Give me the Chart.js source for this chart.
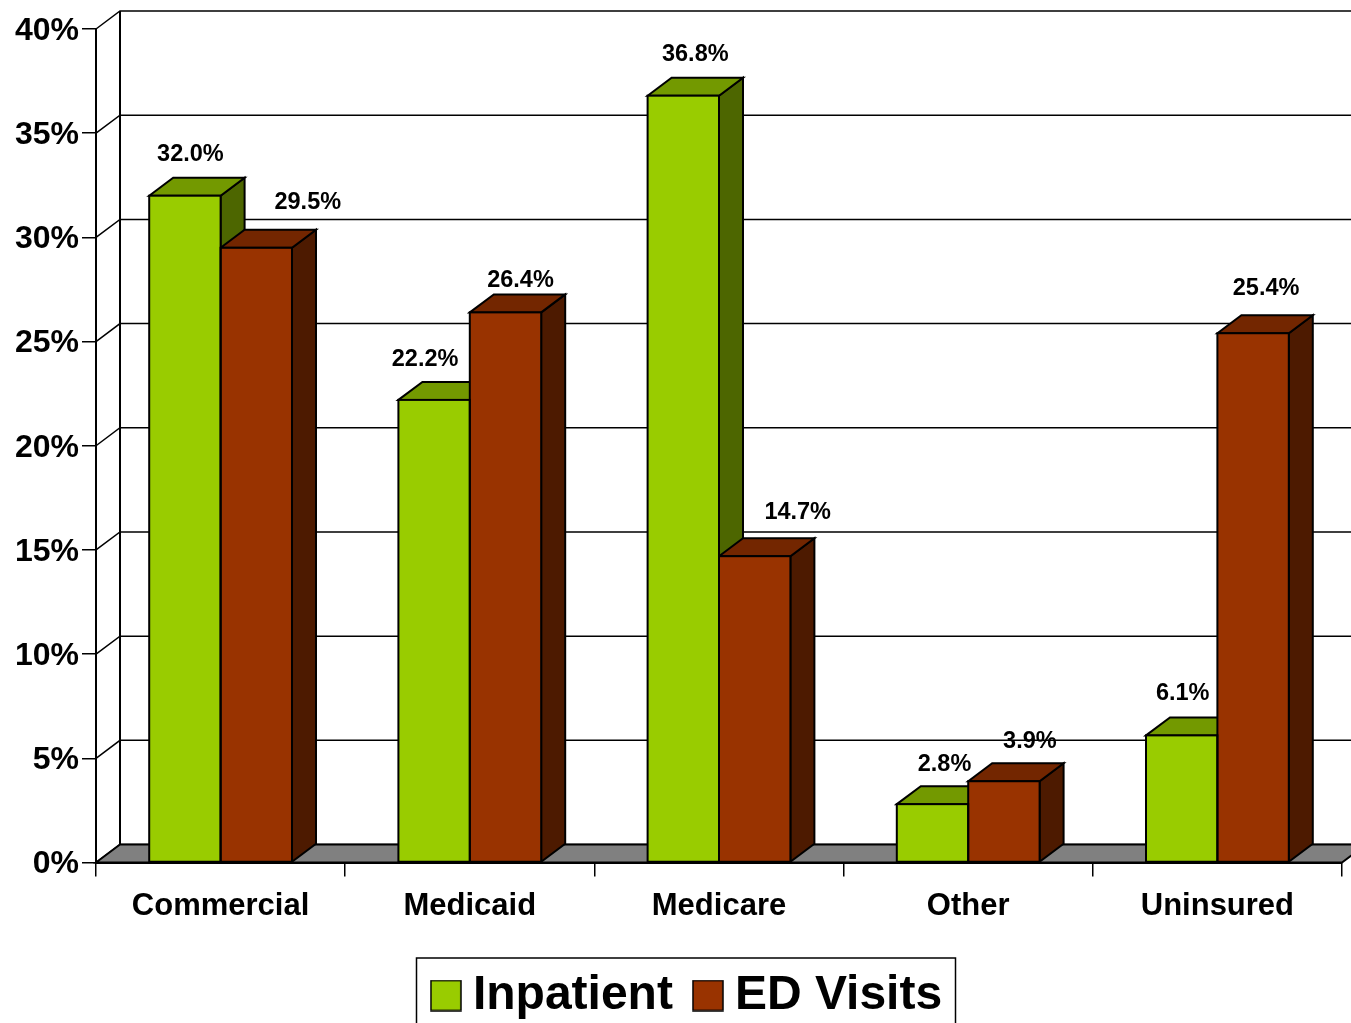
<!DOCTYPE html>
<html>
<head>
<meta charset="utf-8">
<title>Inpatient and ED Visits by payer</title>
<script src="https://cdn.jsdelivr.net/npm/chart.js@4/dist/chart.umd.js"></script>
<style>
  body { margin: 0; background: #fff; }
  canvas { display: block; }
</style>
</head>
<body>
<canvas id="myChart" width="1351" height="1023"></canvas>
<script>
var categories = ["Commercial", "Medicaid", "Medicare", "Other", "Uninsured"];
var inpatient = [32.0, 22.2, 36.8, 2.8, 6.1];
var edVisits = [29.5, 26.4, 14.7, 3.9, 25.4];

var FONT = '"Liberation Sans", Arial, sans-serif';
var DX = 24, DY = 18; // depth of the 3d box
var LINE = 2;

var faces = [
  { front: "#99CC00", top: "#739900", side: "#4D6600" },
  { front: "#993300", top: "#732600", side: "#4D1A00" }
];

// data labels were hand placed in the original, nudges from the bar's top centre
var labelNudges = [
  [[5.5, -41], [-9, -40], [12, -41], [12, -40], [1, -42]],
  [[51.5, -45], [15, -32], [43, -44], [26, -40], [13, -45]]
];

function swatch(color) {
  var c = document.createElement("canvas");
  c.width = 32;
  c.height = 32;
  var g = c.getContext("2d");
  g.fillStyle = color;
  g.fillRect(1, 1, 30, 30);
  g.strokeStyle = "#000";
  g.lineWidth = 1.5;
  g.strokeRect(1, 1, 30, 30);
  return c;
}

function poly(ctx, pts, fill) {
  ctx.beginPath();
  ctx.moveTo(pts[0][0], pts[0][1]);
  for (var i = 1; i < pts.length; i++) ctx.lineTo(pts[i][0], pts[i][1]);
  ctx.closePath();
  if (fill) {
    ctx.fillStyle = fill;
    ctx.fill();
  }
  ctx.stroke();
}

var box3d = {
  id: "box3d",
  afterLayout: function (chart) {
    // move the legend to where the original has it
    var lg = chart.legend;
    lg.top = 939.5;
    lg.left += 21.5;
    lg.right += 21.5;
  },
  beforeDatasetsDraw: function (chart) {
    var ctx = chart.ctx, a = chart.chartArea, y = chart.scales.y;
    ctx.save();
    ctx.strokeStyle = "#000";
    ctx.lineWidth = 1.5;

    // back wall lines and the slanted bits off the axis
    y.ticks.forEach(function (t) {
      var py = y.getPixelForValue(t.value);
      ctx.beginPath();
      ctx.moveTo(a.left, py);
      ctx.lineTo(a.left + DX, py - DY);
      ctx.lineTo(chart.width, py - DY);
      ctx.stroke();
    });
    ctx.lineWidth = LINE;
    ctx.beginPath();
    ctx.moveTo(a.left + DX, a.top - DY);
    ctx.lineTo(a.left + DX, a.bottom - DY);
    ctx.stroke();

    // floor
    poly(ctx, [
      [a.left, a.bottom],
      [a.left + DX, a.bottom - DY],
      [a.right + DX, a.bottom - DY],
      [a.right, a.bottom]
    ], "#808080");

    // tops and sides, fronts come from chart.js on top of these
    chart.data.datasets.forEach(function (ds, d) {
      chart.getDatasetMeta(d).data.forEach(function (bar) {
        var l = bar.x - bar.width / 2, r = bar.x + bar.width / 2;
        poly(ctx, [[r, bar.y], [r + DX, bar.y - DY], [r + DX, bar.base - DY], [r, bar.base]], faces[d].side);
        poly(ctx, [[l, bar.y], [l + DX, bar.y - DY], [r + DX, bar.y - DY], [r, bar.y]], faces[d].top);
      });
    });
    ctx.restore();
  },
  afterDatasetsDraw: function (chart) {
    var ctx = chart.ctx;
    ctx.save();
    ctx.strokeStyle = "#000";
    ctx.lineWidth = LINE;
    chart.data.datasets.forEach(function (ds, d) {
      chart.getDatasetMeta(d).data.forEach(function (bar) {
        ctx.strokeRect(bar.x - bar.width / 2, bar.y, bar.width, bar.base - bar.y);
      });
    });

    // value labels
    ctx.fillStyle = "#000";
    ctx.font = "bold 23.5px " + FONT;
    ctx.textAlign = "center";
    ctx.textBaseline = "middle";
    chart.data.datasets.forEach(function (ds, d) {
      chart.getDatasetMeta(d).data.forEach(function (bar, i) {
        var n = labelNudges[d][i];
        ctx.fillText(ds.data[i].toFixed(1) + "%", bar.x + n[0], bar.y + n[1]);
      });
    });
    ctx.restore();
  },
  afterDraw: function (chart) {
    // frame round the legend, runs off the bottom of the picture
    var ctx = chart.ctx;
    ctx.save();
    ctx.strokeStyle = "#000";
    ctx.lineWidth = 1.5;
    ctx.strokeRect(416.5, 958, 539, 80);
    ctx.restore();
  }
};

var swatches = [swatch(faces[0].front), swatch(faces[1].front)];

new Chart(document.getElementById("myChart").getContext("2d"), {
  type: "bar",
  data: {
    labels: categories,
    datasets: [
      { label: "Inpatient", data: inpatient, backgroundColor: faces[0].front, borderWidth: 0 },
      { label: "ED Visits", data: edVisits, backgroundColor: faces[1].front, borderWidth: 0 }
    ]
  },
  plugins: [box3d],
  options: {
    responsive: false,
    animation: false,
    layout: { padding: { top: 29, right: 9 } },
    categoryPercentage: 0.573,
    barPercentage: 1,
    plugins: {
      tooltip: { enabled: false },
      legend: {
        position: "bottom",
        labels: {
          color: "#000",
          font: { family: FONT, size: 48, weight: "bold", lineHeight: 1.32 },
          usePointStyle: true,
          pointStyleWidth: 6,
          padding: 32,
          generateLabels: function (chart) {
            return Chart.defaults.plugins.legend.labels.generateLabels(chart).map(function (item, i) {
              item.pointStyle = swatches[i];
              return item;
            });
          }
        }
      }
    },
    scales: {
      x: {
        afterFit: function (s) { s.height = 1023 - 862.5 - s.chart.legend.height; },
        grid: { drawOnChartArea: false, drawTicks: true, tickLength: 14, color: "#000", lineWidth: 1.5 },
        border: { display: true, color: "#000", width: LINE },
        ticks: { color: "#000", padding: 11, maxRotation: 0, font: { family: FONT, size: 31, weight: "bold" } }
      },
      y: {
        min: 0,
        max: 40,
        afterFit: function (s) { s.width = 96; },
        grid: { drawOnChartArea: false, drawTicks: true, tickLength: 14, color: "#000", lineWidth: 1.5 },
        border: { display: true, color: "#000", width: LINE },
        ticks: {
          stepSize: 5,
          color: "#000",
          padding: 3,
          labelOffset: 2,
          font: { family: FONT, size: 32, weight: "bold" },
          callback: function (v) { return v + "%"; }
        }
      }
    }
  }
});
</script>
</body>
</html>
